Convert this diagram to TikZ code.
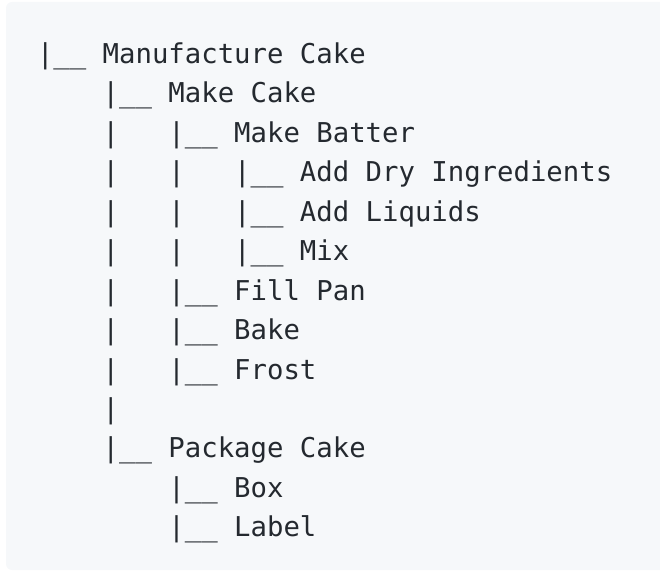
\documentclass[tikz,border=0pt]{standalone}
\usepackage{fontspec}
\usepackage{xcolor}
\usepackage{tikz}
\usetikzlibrary{positioning}
\newfontfamily\codefont{DejaVu Sans Mono}
\definecolor{codebg}{HTML}{F6F8FA}
\definecolor{codefg}{HTML}{24292F}
\tikzset{codeline/.style ={font=\codefont\fontsize{27.3}{39.4}\selectfont, text=codefg, inner sep=0pt, outer sep=0pt, text height=29.4pt, text depth=10.05pt}}
\tikzset{codeblock/.style ={fill=codebg, rounded corners=6pt}}
\begin{document}
\begin{tikzpicture}[node distance=0pt]
\useasboundingbox (0,0) rectangle (660pt,-572pt);
\fill[codeblock] (6pt,-2pt) rectangle (666pt,-570pt);
\node[codeline, anchor=north west] (l1) at (37pt,-34pt) {|\_\_ Manufacture Cake};
\node[codeline, below=of l1.south west, anchor=north west] (l2) {~~~~|\_\_ Make Cake};
\node[codeline, below=of l2.south west, anchor=north west] (l3) {~~~~|~~~|\_\_ Make Batter};
\node[codeline, below=of l3.south west, anchor=north west] (l4) {~~~~|~~~|~~~|\_\_ Add Dry Ingredients};
\node[codeline, below=of l4.south west, anchor=north west] (l5) {~~~~|~~~|~~~|\_\_ Add Liquids};
\node[codeline, below=of l5.south west, anchor=north west] (l6) {~~~~|~~~|~~~|\_\_ Mix};
\node[codeline, below=of l6.south west, anchor=north west] (l7) {~~~~|~~~|\_\_ Fill Pan};
\node[codeline, below=of l7.south west, anchor=north west] (l8) {~~~~|~~~|\_\_ Bake};
\node[codeline, below=of l8.south west, anchor=north west] (l9) {~~~~|~~~|\_\_ Frost};
\node[codeline, below=of l9.south west, anchor=north west] (l10) {~~~~|};
\node[codeline, below=of l10.south west, anchor=north west] (l11) {~~~~|\_\_ Package Cake};
\node[codeline, below=of l11.south west, anchor=north west] (l12) {~~~~~~~~|\_\_ Box};
\node[codeline, below=of l12.south west, anchor=north west] (l13) {~~~~~~~~|\_\_ Label};
\end{tikzpicture}
\end{document}
